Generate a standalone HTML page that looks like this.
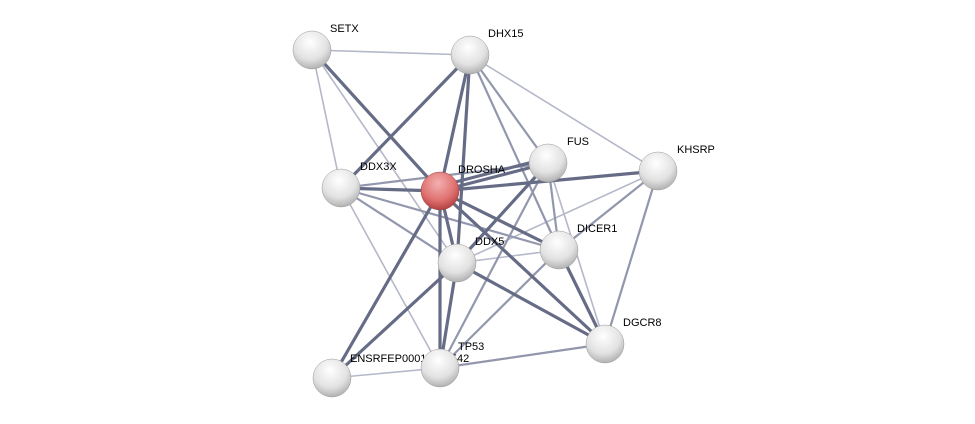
<!DOCTYPE html>
<html><head><meta charset="utf-8"><style>
html,body{margin:0;padding:0;background:#fff;}
svg{display:block;}
text{font-family:"Liberation Sans",sans-serif;font-size:11px;fill:#000;}
</style></head><body>
<svg width="975" height="424" viewBox="0 0 975 424" xmlns="http://www.w3.org/2000/svg">
<defs>
<radialGradient id="g" cx="0.45" cy="0.3" r="0.75">
<stop offset="0" stop-color="#ffffff"/><stop offset="0.6" stop-color="#e2e2e2"/><stop offset="1" stop-color="#a8a8a8"/>
</radialGradient>
<radialGradient id="r" cx="0.45" cy="0.3" r="0.75">
<stop offset="0" stop-color="#f4b0b0"/><stop offset="0.6" stop-color="#e07070"/><stop offset="1" stop-color="#a83838"/>
</radialGradient>
</defs>
<g stroke-linecap="round">
<!-- thin light -->
<g stroke="#b4b8c8" stroke-width="1.6">
<line x1="312" y1="50" x2="470" y2="55"/>
<line x1="312" y1="50" x2="341" y2="188"/>
<line x1="312" y1="50" x2="457" y2="263"/>
<line x1="470" y1="55" x2="658" y2="171"/>
<line x1="341" y1="188" x2="440" y2="368"/>
<line x1="332" y1="378" x2="440" y2="368"/>
<line x1="658" y1="171" x2="457" y2="263"/>
<line x1="559" y1="250" x2="457" y2="263"/>
<line x1="548" y1="163" x2="605" y2="344"/>
</g>
<g stroke="#9297ad" stroke-width="2.2">
<line x1="470" y1="55" x2="548" y2="163"/>
<line x1="470" y1="55" x2="559" y2="250"/>
<line x1="341" y1="188" x2="548" y2="163"/>
<line x1="341" y1="188" x2="559" y2="250"/>
<line x1="341" y1="188" x2="457" y2="263"/>
<line x1="548" y1="163" x2="440" y2="368"/>
<line x1="548" y1="163" x2="559" y2="250"/>
<line x1="658" y1="171" x2="559" y2="250"/>
<line x1="658" y1="171" x2="605" y2="344"/>
<line x1="559" y1="250" x2="440" y2="368"/>
<line x1="440" y1="368" x2="605" y2="344"/>
</g>
<g stroke="#666c86" stroke-width="3.2">
<line x1="312" y1="50" x2="440" y2="191"/>
<line x1="470" y1="55" x2="341" y2="188"/>
<line x1="470" y1="55" x2="440" y2="191"/>
<line x1="470" y1="55" x2="457" y2="263"/>
<line x1="440" y1="191" x2="548" y2="163"/>
<line x1="440" y1="186" x2="548" y2="158"/>
<line x1="440" y1="191" x2="658" y2="171"/>
<line x1="440" y1="191" x2="341" y2="188"/>
<line x1="440" y1="191" x2="457" y2="263"/>
<line x1="440" y1="191" x2="559" y2="250"/>
<line x1="440" y1="191" x2="605" y2="344"/>
<line x1="440" y1="191" x2="440" y2="368"/>
<line x1="440" y1="191" x2="332" y2="378"/>
<line x1="548" y1="163" x2="457" y2="263"/>
<line x1="559" y1="250" x2="605" y2="344"/>
<line x1="457" y1="263" x2="605" y2="344"/>
<line x1="457" y1="263" x2="440" y2="368"/>
<line x1="457" y1="263" x2="332" y2="378"/>
</g>
</g>
<g>
<circle cx="312" cy="50" r="19" fill="url(#g)" stroke="#999" stroke-width="0.5"/>
<circle cx="470" cy="55" r="19" fill="url(#g)" stroke="#999" stroke-width="0.5"/>
<circle cx="548" cy="163" r="19" fill="url(#g)" stroke="#999" stroke-width="0.5"/>
<circle cx="658" cy="171" r="19" fill="url(#g)" stroke="#999" stroke-width="0.5"/>
<circle cx="341" cy="188" r="19" fill="url(#g)" stroke="#999" stroke-width="0.5"/>
<circle cx="440" cy="191" r="19" fill="url(#r)" stroke="#944" stroke-width="0.5"/>
<circle cx="559" cy="250" r="19" fill="url(#g)" stroke="#999" stroke-width="0.5"/>
<circle cx="457" cy="263" r="19" fill="url(#g)" stroke="#999" stroke-width="0.5"/>
<circle cx="605" cy="344" r="19" fill="url(#g)" stroke="#999" stroke-width="0.5"/>
<circle cx="332" cy="378" r="19" fill="url(#g)" stroke="#999" stroke-width="0.5"/>
<text x="350" y="362">ENSRFEP00010006542</text>
<circle cx="440" cy="368" r="19" fill="url(#g)" stroke="#999" stroke-width="0.5"/>
</g>
<text x="330" y="32">SETX</text>
<text x="488" y="37">DHX15</text>
<text x="567" y="145">FUS</text>
<text x="677" y="153">KHSRP</text>
<text x="360" y="170">DDX3X</text>
<text x="458" y="173">DROSHA</text>
<text x="577" y="232">DICER1</text>
<text x="475" y="245">DDX5</text>
<text x="623" y="326">DGCR8</text>
<text x="458" y="350">TP53</text>
</svg>
</body></html>
